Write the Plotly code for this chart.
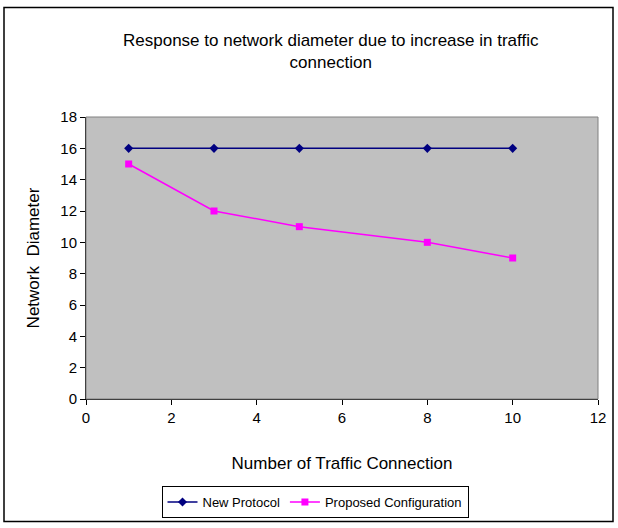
import plotly.graph_objects as go

x_new = [1, 3, 5, 8, 10]
y_new = [16, 16, 16, 16, 16]
x_prop = [1, 3, 5, 8, 10]
y_prop = [15, 12, 11, 10, 9]

L, R, T, B = 86, 20, 117, 128
W, H = 618, 528
pw, ph = W - L - R, H - T - B

def px(xp):
    return (xp - L) / pw

def py(yp):
    return (H - B - yp) / ph

fig = go.Figure()
fig.add_trace(go.Scatter(x=x_new, y=y_new, mode="lines+markers", name="New Protocol",
                         line=dict(color="#000080", width=1.5),
                         marker=dict(symbol="diamond", size=7, color="#000080")))
fig.add_trace(go.Scatter(x=x_prop, y=y_prop, mode="lines+markers", name="Proposed Configuration",
                         line=dict(color="#FF00FF", width=1.5),
                         marker=dict(symbol="square", size=7, color="#FF00FF")))

font = "Liberation Sans, Arial, sans-serif"
fig.update_layout(
    width=W, height=H,
    margin=dict(l=L, r=R, t=T, b=B),
    paper_bgcolor="white",
    plot_bgcolor="#C0C0C0",
    font=dict(family=font, size=15, color="black"),
    showlegend=True,
    legend=dict(orientation="h", x=px(315), xanchor="center", y=py(502), yanchor="middle",
                bordercolor="black", borderwidth=1, bgcolor="white",
                font=dict(family=font, size=13), itemwidth=30, tracegroupgap=0),
    xaxis=dict(range=[0, 12], tickvals=[0, 2, 4, 6, 8, 10, 12], showgrid=False, zeroline=False,
               showline=True, linecolor="black", linewidth=1, mirror=False,
               ticks="outside", ticklen=5, tickcolor="black", tickfont=dict(size=15),
               title=dict(text="Number of Traffic Connection", font=dict(size=17), standoff=32)),
    yaxis=dict(range=[0, 18], tickvals=list(range(0, 19, 2)), showgrid=False, zeroline=False,
               showline=True, linecolor="black", linewidth=1,
               ticks="outside", ticklen=5, tickcolor="black", tickfont=dict(size=15),
               title=dict(text="Network  Diameter", font=dict(size=17), standoff=16)),
    shapes=[
        dict(type="rect", xref="paper", yref="paper", x0=0, y0=0, x1=1, y1=1,
             line=dict(color="#808080", width=1), layer="above"),
        dict(type="rect", xref="paper", yref="paper", x0=px(4), y0=py(523), x1=px(613), y1=py(7),
             line=dict(color="black", width=1.5)),
    ],
    annotations=[
        dict(text="Response to network diameter due to increase in traffic<br>connection",
             xref="paper", yref="paper", x=px(331), y=py(51), xanchor="center", yanchor="middle",
             showarrow=False, font=dict(family=font, size=17, color="black")),
    ],
)

fig.write_html("out.html", config={"displayModeBar": False},
               post_script="document.body.style.margin='0';")
